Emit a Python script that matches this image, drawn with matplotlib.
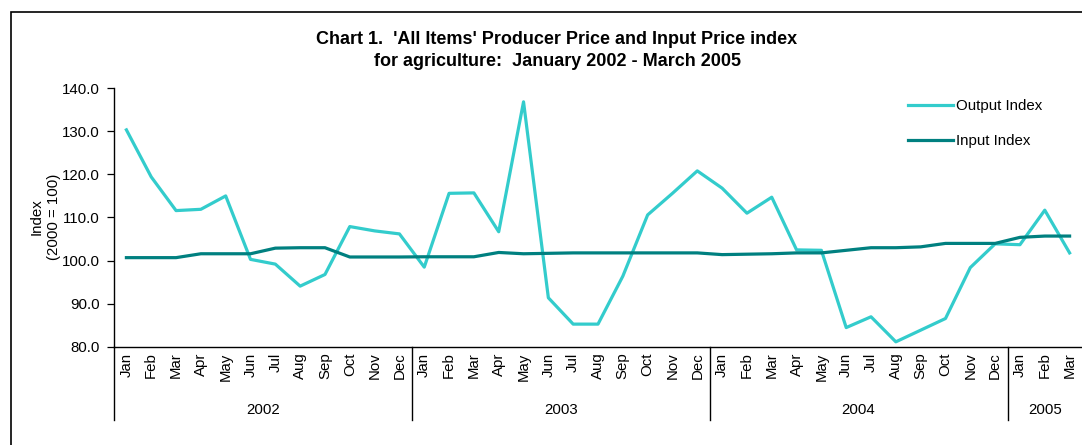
import matplotlib
matplotlib.use("Agg")
import matplotlib.pyplot as plt
from matplotlib.patches import Rectangle
import matplotlib.transforms as mtransforms

plt.rcParams['font.family'] = ['Liberation Sans', 'DejaVu Sans']

months = ["Jan", "Feb", "Mar", "Apr", "May", "Jun", "Jul", "Aug", "Sep", "Oct", "Nov", "Dec"]
years = ["2002", "2003", "2004", "2005"]
month_labels = months * 3 + months[:3]

output_index = [130.3, 119.4, 111.6, 111.9, 115.0, 100.3, 99.2, 94.1, 96.8, 107.9, 106.9, 106.2,
                98.5, 115.6, 115.7, 106.7, 136.8, 91.4, 85.3, 85.3, 96.4, 110.6, 115.6, 120.8,
                116.8, 111.0, 114.7, 102.5, 102.4, 84.5, 87.0, 81.2, 83.9, 86.6, 98.4, 103.9,
                103.7, 111.7, 101.8]
input_index = [100.7, 100.7, 100.7, 101.6, 101.6, 101.6, 102.9, 103.0, 103.0, 100.85, 100.85, 100.85,
               100.9, 100.9, 100.9, 101.9, 101.6, 101.7, 101.8, 101.8, 101.8, 101.8, 101.8, 101.8,
               101.4, 101.5, 101.6, 101.8, 101.8, 102.4, 103.0, 103.0, 103.2, 104.0, 104.0, 104.0,
               105.4, 105.7, 105.7]
year_counts = [12, 12, 12, 3]

FS = 10.8

fig = plt.figure(figsize=(10.82, 4.45), dpi=100)
ax = fig.add_axes([114/1082, 1-347/445, 1 - 114/1082, (347-88)/445])

x = list(range(len(output_index)))
ax.plot(x, output_index, color="#33CCCC", lw=2.3, label="Output Index")
ax.plot(x, input_index, color="#008080", lw=2.3, label="Input Index")

ax.set_xlim(-0.5, len(x) - 0.5)
ax.set_ylim(80, 140)
yt = [80, 90, 100, 110, 120, 130, 140]
ax.set_yticks(yt)
ax.set_yticklabels([f"{v:.1f}" for v in yt], fontsize=FS)
ax.set_xticks(x)
ax.set_xticklabels(month_labels, rotation=90, fontsize=FS)
ax.tick_params(axis='x', length=0, pad=4)
ax.tick_params(axis='y', length=5, width=0.9, direction='out', pad=5)
for s in ['top', 'right']:
    ax.spines[s].set_visible(False)
for s in ['left', 'bottom']:
    ax.spines[s].set_linewidth(1.0)

trans = mtransforms.blended_transform_factory(ax.transData, ax.transAxes)
ybot = -(420 - 347) / (347 - 88)
ylab = -(410 - 347) / (347 - 88)
start = 0
bounds = [-0.5]
for cnt in year_counts:
    bounds.append(start + cnt - 0.5)
    start += cnt
for b in bounds[:-1]:
    ax.plot([b, b], [0, ybot], transform=trans, color="black", lw=1.0, clip_on=False)
start = 0
for yr, cnt in zip(years, year_counts):
    ax.text(start + (cnt - 1) / 2, ylab, yr, transform=trans, ha='center', va='center', fontsize=FS)
    start += cnt

ax.set_ylabel("Index\n(2000 = 100)", fontsize=FS, linespacing=1.35)
ax.yaxis.set_label_coords(-(114 - 61) / 969, (347 - 217) / 259)

leg = ax.legend(loc='upper left', bbox_to_anchor=((895 - 114) / 969, 1.01), frameon=False,
                fontsize=FS, handlelength=3.0, handletextpad=0.25, labelspacing=1.4)

fig.text(557/1082, 1 - 39/445, "Chart 1.  'All Items' Producer Price and Input Price index",
         ha='center', va='center', fontsize=13, fontweight='bold')
fig.text(557/1082, 1 - 61/445, "for agriculture:  January 2002 - March 2005",
         ha='center', va='center', fontsize=13, fontweight='bold')

fig.patches.append(Rectangle((11/1082, -0.1), 1.2, 1 - 12/445 + 0.1, transform=fig.transFigure,
                             fill=False, edgecolor='black', lw=1.2))

fig.savefig("out.png", dpi=100)
